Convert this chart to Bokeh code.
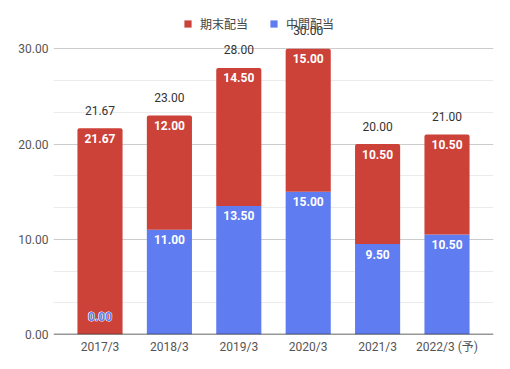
from bokeh.plotting import figure
from bokeh.models import Range1d, FixedTicker, Span, Legend, LegendItem, ColumnDataSource
from bokeh.core.properties import value
from bokeh.embed import file_html
from bokeh.resources import INLINE

categories = ["2017/3", "2018/3", "2019/3", "2020/3", "2021/3", "2022/3 (予)"]
interim = [0.00, 11.00, 13.50, 15.00, 9.50, 10.50]      # 中間配当
year_end = [21.67, 12.00, 14.50, 15.00, 10.50, 10.50]   # 期末配当
totals = [21.67, 23.00, 28.00, 30.00, 20.00, 21.00]
y_ticks = [0, 10, 20, 30]
y_tick_labels = ["0.00", "10.00", "20.00", "30.00"]
y_minor = [10 / 3, 20 / 3, 40 / 3, 50 / 3, 70 / 3, 80 / 3]
series_names = ["期末配当", "中間配当"]

FONT = "Roboto, 'Noto Sans CJK JP'"
RED = "#cc4138"
BLUE = "#5f7cf1"

x = list(range(len(categories)))
tops = [a + b for a, b in zip(interim, year_end)]

src = ColumnDataSource(dict(
    x=x, interim=interim, top=tops, totals=totals,
    red_lbl=[f"{v:.2f}" for v in year_end],
    tot_lbl=[f"{v:.2f}" for v in totals],
))
bx = [i for i, v in zip(x, interim) if v > 0]
bv = [v for v in interim if v > 0]
blue_src = ColumnDataSource(dict(x=bx, y=bv, lbl=[f"{v:.2f}" for v in bv]))
zx = [i for i, v in zip(x, interim) if v == 0]
zv = [v for v in interim if v == 0]
zero_src = ColumnDataSource(dict(x=zx, y=zv, lbl=[f"{v:.2f}" for v in zv]))

p = figure(width=502, height=361, x_range=Range1d(-0.67, 5.67), y_range=Range1d(0, 33.4),
           output_backend="svg", toolbar_location=None,
           min_border_left=53, min_border_right=9, min_border_top=16, min_border_bottom=27)
p.outline_line_color = None
p.background_fill_color = "white"

blue_r = p.vbar(x="x", bottom=0, top="interim", width=0.65, fill_color=BLUE, line_color=None, source=src)
red_r = p.vbar(x="x", bottom="interim", top="top", width=0.65, fill_color=RED, line_color=None,
               border_radius=(2, 2, 0, 0), source=src)

p.text(x="x", y="top", text="red_lbl", source=src, y_offset=10, text_align="center",
       text_baseline="middle", text_color="white", text_font=value(FONT),
       text_font_size="12px", text_font_style="bold")
p.text(x="x", y="y", text="lbl", source=blue_src, y_offset=10, text_align="center",
       text_baseline="middle", text_color="white", text_font=value(FONT),
       text_font_size="12px", text_font_style="bold")
# halo then blue text for the zero label
p.text(x="x", y="y", text="lbl", source=zero_src, y_offset=-18, text_align="center",
       text_baseline="middle", text_color="white", text_font=value(FONT),
       text_font_size="12px", text_font_style="bold", text_outline_color="white")
p.text(x="x", y="y", text="lbl", source=zero_src, y_offset=-18, text_align="center",
       text_baseline="middle", text_color=BLUE, text_font=value(FONT),
       text_font_size="12px", text_font_style="bold")
p.text(x="x", y="top", text="tot_lbl", source=src, y_offset=-18, text_align="center",
       text_baseline="middle", text_color="#333333", text_font=value(FONT),
       text_font_size="12px")

p.yaxis.ticker = FixedTicker(ticks=y_ticks, minor_ticks=y_minor)
p.yaxis.major_label_overrides = {t: l for t, l in zip(y_ticks, y_tick_labels)}
p.xaxis.ticker = FixedTicker(ticks=x)
p.xaxis.major_label_overrides = {i: c for i, c in zip(x, categories)}
for ax in (p.xaxis, p.yaxis):
    ax.axis_line_color = None
    ax.major_tick_line_color = None
    ax.minor_tick_line_color = None
    ax.major_tick_out = 0
    ax.major_tick_in = 0
    ax.minor_tick_out = 0
    ax.minor_tick_in = 0
    ax.major_label_text_font = FONT
    ax.major_label_text_font_size = "12px"
    ax.major_label_text_color = "#555555"
p.yaxis.major_label_standoff = 5
p.xaxis.major_label_standoff = 5

p.xgrid.grid_line_color = None
p.ygrid.grid_line_color = "#cccccc"
p.ygrid.minor_grid_line_color = "#ebebeb"

p.add_layout(Span(location=0, dimension="width", line_color="#333333", line_width=1.5))

legend = Legend(items=[LegendItem(label=series_names[0], renderers=[red_r]),
                       LegendItem(label=series_names[1], renderers=[blue_r])],
                orientation="horizontal", location=(130, 302),
                padding=0, margin=0, spacing=21, label_standoff=8,
                glyph_width=9, glyph_height=9, label_height=9,
                label_text_font=FONT, label_text_font_size="12px", label_text_color="#444444",
                background_fill_alpha=0, border_line_color=None)
p.add_layout(legend)

open("out.html", "w").write(file_html(p, INLINE))
